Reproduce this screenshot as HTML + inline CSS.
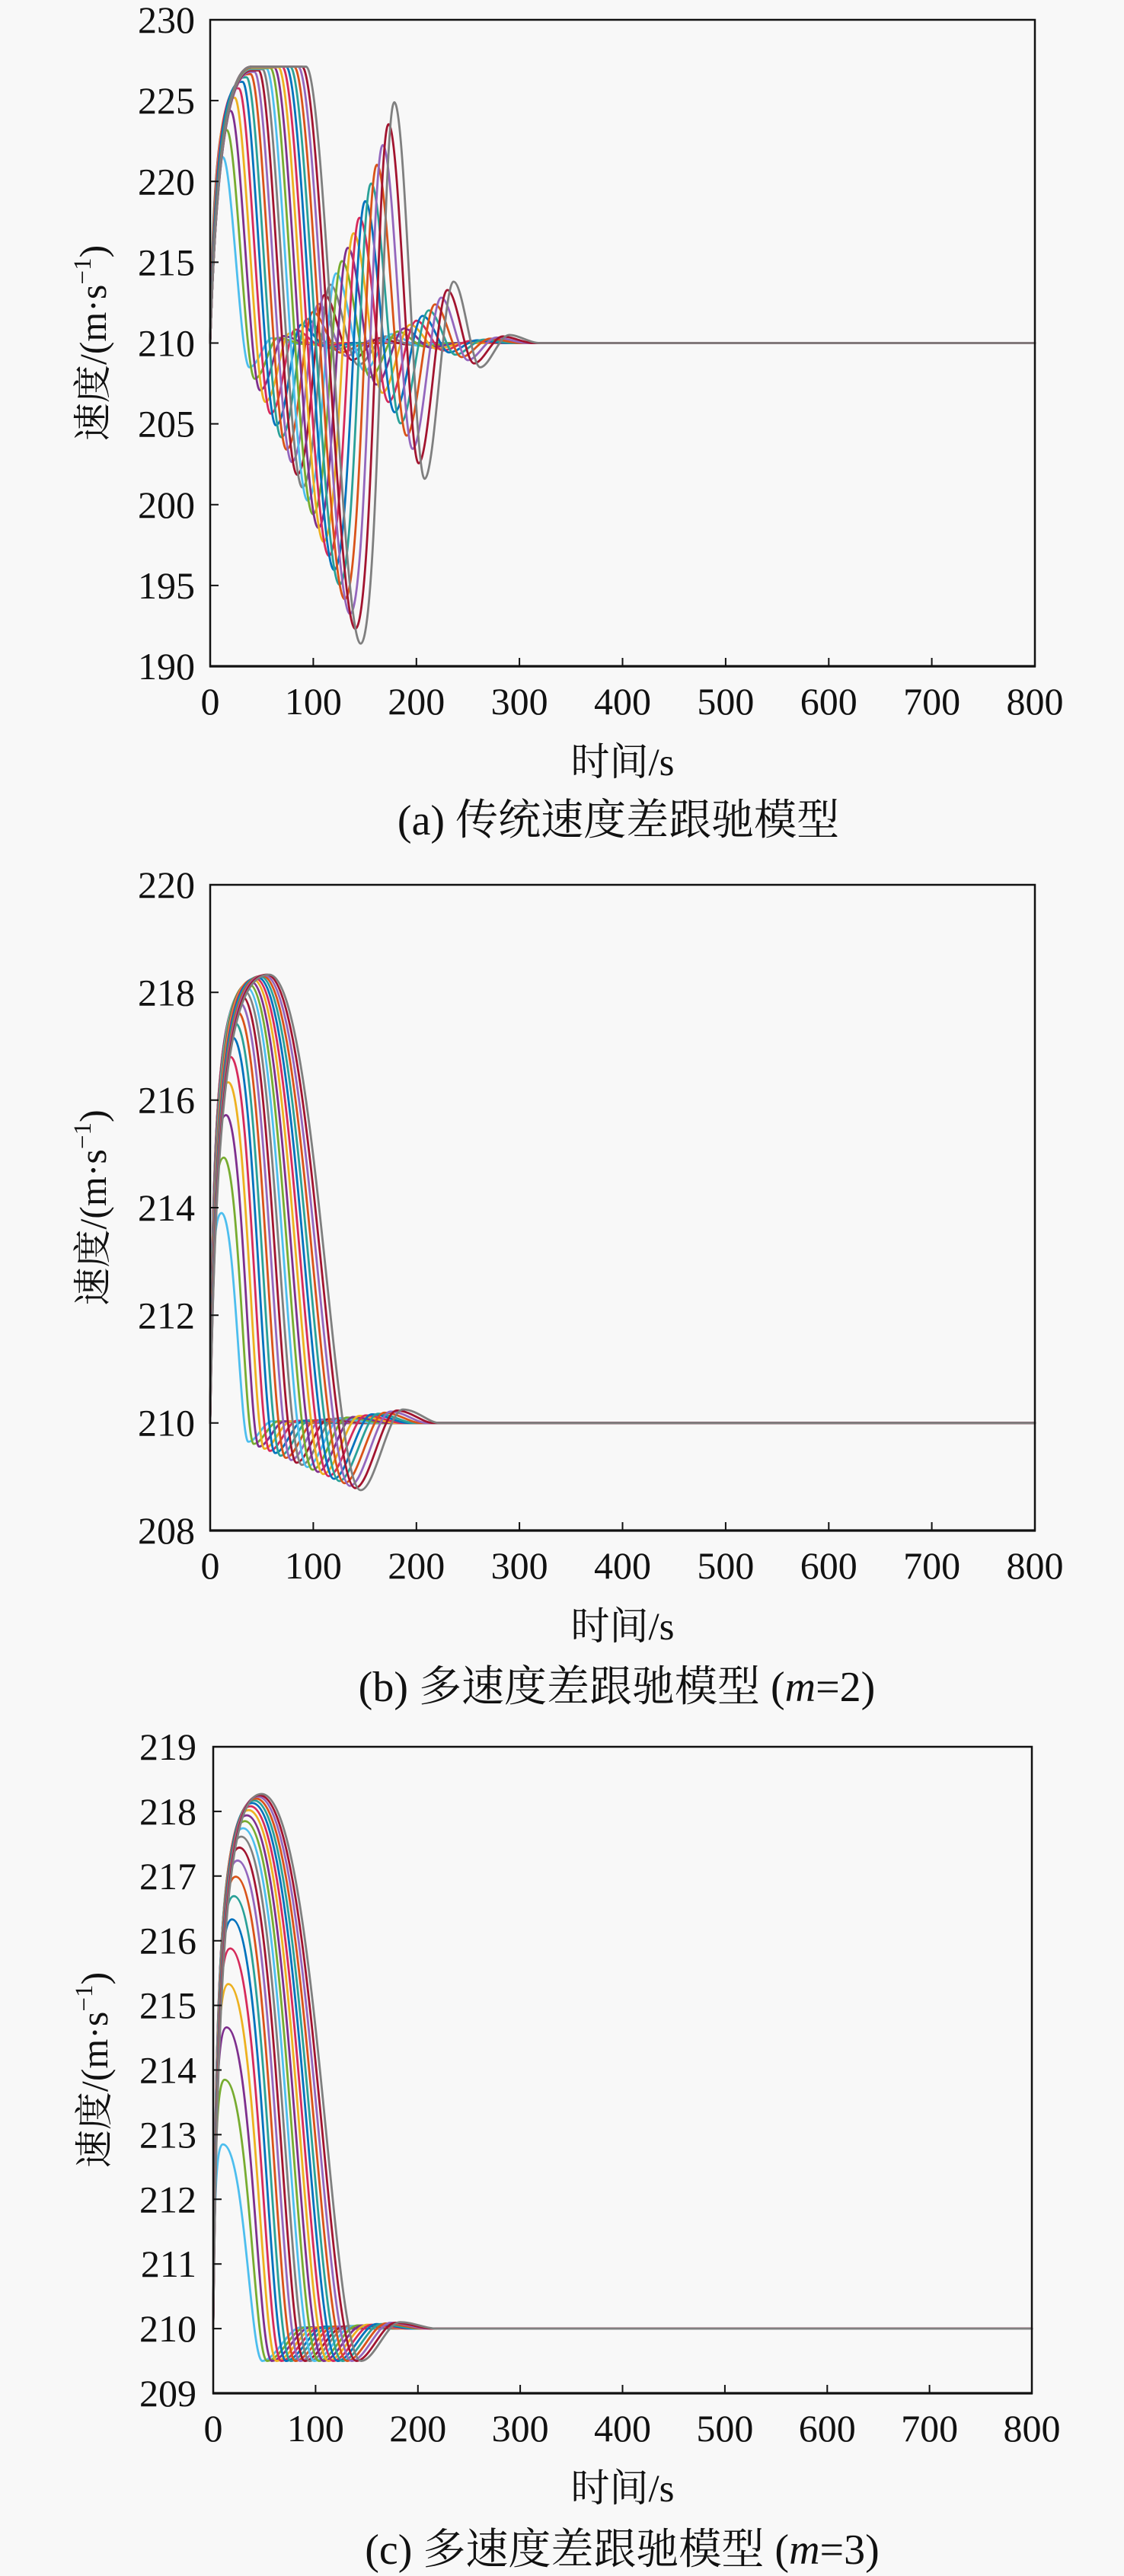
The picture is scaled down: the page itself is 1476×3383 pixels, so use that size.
<!DOCTYPE html>
<html><head><meta charset="utf-8">
<style>
html,body{margin:0;padding:0;background:#f8f8f8;}
svg{display:block;}
.p path{fill:none;stroke-width:2.8px;vector-effect:non-scaling-stroke;stroke-linejoin:round;stroke-linecap:round;}
.c0{stroke:#4dbeee}.c1{stroke:#77ac30}.c2{stroke:#7e2f8e}.c3{stroke:#edb120}.c4{stroke:#d62a5b}.c5{stroke:#0072bd}.c6{stroke:#2aa198}.c7{stroke:#d95319}.c8{stroke:#9467bd}.c9{stroke:#a2142f}.c10{stroke:#7f7f7f}
text{font-family:"Liberation Serif","Noto Serif CJK SC",serif;fill:#111;}
.tk{font-size:50px;}
.ax{font-size:51px;}
.cap{font-size:56px;}
.yl{font-size:50px;}
</style></head><body>
<svg width="1476" height="3383" viewBox="0 0 1476 3383" xmlns="http://www.w3.org/2000/svg">
<rect width="1476" height="3383" fill="#f8f8f8"/>

<!-- ================= Panel (a) ================= -->
<g class="p" transform="matrix(1.35375 0 0 -21.225 276 4907.75)">
<path class="c0" d="M0,210 C1.8,218.05 5.5,221.5 12.3,221.5 C20.9,221.5 29.4,208.5 38,208.5 S52.7,210.3 60,210.3 S76.7,209.95 85,209.95 S101.7,210 110,210 L800,210"/>
<path class="c1" d="M0,210 C2.4,219.23 7.1,223.18 15.8,223.18 L16.1,223.18 C25.1,223.18 34.1,207.79 43.1,207.79 S58.2,210.33 65.7,210.33 S82.5,209.95 90.9,209.95 S107.6,210 116,210 L800,210"/>
<path class="c2" d="M0,210 C2.9,220.05 8.7,224.36 19.3,224.36 L20,224.36 C29.4,224.36 38.9,207.08 48.3,207.08 S63.6,210.43 71.3,210.43 S88.2,209.93 96.7,209.93 S113.6,210 122,210 L800,210"/>
<path class="c3" d="M0,210 C3.4,220.63 10.3,225.18 22.8,225.18 L23.8,225.18 C33.7,225.18 43.5,206.36 53.4,206.36 S69.2,210.6 77,210.6 S94.1,209.89 102.6,209.89 S119.6,210 128,210 L800,210"/>
<path class="c4" d="M0,210 C3.9,221.03 11.8,225.76 26.3,225.76 L27.7,225.76 C38,225.76 48.3,205.63 58.6,205.63 S74.6,210.83 82.6,210.83 S99.8,209.82 108.4,209.82 S125.5,210 134,210 L800,210"/>
<path class="c5" d="M0,210 C4.5,221.31 13.4,226.16 29.8,226.16 L31.5,226.16 C42.2,226.16 53,204.91 63.7,204.91 S80.1,211.13 88.3,211.13 S105.6,209.72 114.3,209.72 S131.4,210 140,210 L800,210"/>
<path class="c6" d="M0,210 C5,221.51 15,226.44 33.3,226.44 L35.3,226.44 C46.5,226.44 57.6,204.17 68.8,204.17 S85.5,211.49 93.9,211.49 S111.4,209.59 120.2,209.59 S137.4,210 146,210 L800,210"/>
<path class="c7" d="M0,210 C5.5,221.65 16.6,226.64 36.8,226.64 L39.2,226.64 C50.8,226.64 62.4,203.41 74,203.41 S91.1,211.92 99.6,211.92 S117.2,209.41 126,209.41 S143.3,210 152,210 L800,210"/>
<path class="c8" d="M0,210 C6,221.75 18,226.78 40,226.78 L43,226.78 C55,226.78 67.1,202.64 79.1,202.64 S96.5,212.42 105.2,212.42 S123,209.2 131.9,209.2 S149.3,210.21 158,210.21 S170,210 180,210 L800,210"/>
<path class="c9" d="M0,210 C6,221.81 18,226.87 40,226.87 L46.9,226.87 C59.4,226.87 71.8,201.85 84.3,201.85 S102,212.98 110.9,212.98 S128.7,208.95 137.7,208.95 S155.2,210.3 164,210.3 S180.9,209.92 189.4,209.92 S207,210 215.7,210 L800,210"/>
<path class="c10" d="M0,210 C6,221.86 18,226.94 40,226.94 L50.7,226.94 C63.6,226.94 76.5,201.06 89.4,201.06 S107.5,213.61 116.5,213.61 S134.6,208.64 143.6,208.64 S161.2,210.41 170,210.41 S187,209.89 195.5,209.89 S213.1,210 221.9,210 L800,210"/>
<path class="c0" d="M0,210 C6,221.89 18,226.99 40,226.99 L54.5,226.99 C67.8,226.99 81.2,200.25 94.5,200.25 S113,214.31 122.2,214.31 S140.4,208.29 149.5,208.29 S167.2,210.55 176,210.55 S193.1,209.84 201.6,209.84 S219.3,210 228.1,210 L800,210"/>
<path class="c1" d="M0,210 C6,221.91 18,227.02 40,227.02 L58.4,227.02 C72.2,227.02 85.9,199.41 99.7,199.41 S118.4,215.07 127.8,215.07 S146.1,207.89 155.3,207.89 S173.1,210.71 182,210.71 S199.1,209.79 207.6,209.79 S225.4,210 234.3,210 L800,210"/>
<path class="c2" d="M0,210 C6,221.94 18,227.05 40,227.05 L62.2,227.05 C76.4,227.05 90.6,198.57 104.8,198.57 S123.9,215.89 133.5,215.89 S152,207.43 161.2,207.43 S179.1,210.9 188,210.9 S205.1,209.72 213.7,209.72 S231.6,210 240.5,210 L800,210"/>
<path class="c3" d="M0,210 C6,221.95 18,227.07 40,227.07 L66.1,227.07 C80.7,227.07 95.4,197.71 110,197.71 S129.4,216.79 139.1,216.79 S157.7,206.92 167,206.92 S185,211.13 194,211.13 S211.1,209.64 219.7,209.64 S237.7,210 246.7,210 L800,210"/>
<path class="c4" d="M0,210 C6,221.97 18,227.1 40,227.1 L69.9,227.1 C85,227.1 100,196.84 115.1,196.84 S134.9,217.75 144.8,217.75 S163.5,206.35 172.9,206.35 S191,211.38 200,211.38 S217.2,209.54 225.8,209.54 S243.9,210.13 252.9,210.13 S272.9,210 282.9,210 L800,210"/>
<path class="c5" d="M0,210 C6,221.97 18,227.1 40,227.1 L73.7,227.1 C89.2,227.1 104.7,195.96 120.2,195.96 S140.3,218.78 150.4,218.78 S169.3,205.72 178.8,205.72 S196.9,211.68 206,211.68 S223.2,209.42 231.8,209.42 S249.9,210.17 259,210.17 S279,210 289,210 L800,210"/>
<path class="c6" d="M0,210 C6,221.97 18,227.1 40,227.1 L77.6,227.1 C93.5,227.1 109.5,195.05 125.4,195.05 S145.9,219.87 156.1,219.87 S175.1,205.03 184.6,205.03 S202.9,212.02 212,212.02 S229.3,209.28 237.9,209.28 S256.1,210.21 265.2,210.21 S285.2,210 295.2,210 L800,210"/>
<path class="c7" d="M0,210 C6,221.97 18,227.1 40,227.1 L81.4,227.1 C97.8,227.1 114.1,194.15 130.5,194.15 S151.3,221.03 161.7,221.03 S180.9,204.27 190.5,204.27 S208.8,212.39 218,212.39 S235.3,209.13 243.9,209.13 S262.2,210.27 271.4,210.27 S291.4,210 301.4,210 L800,210"/>
<path class="c8" d="M0,210 C6,221.97 18,227.1 40,227.1 L85.3,227.1 C102.1,227.1 118.9,193.24 135.7,193.24 S156.8,222.25 167.4,222.25 S186.7,203.45 196.3,203.45 S214.8,212.81 224,212.81 S241.3,208.94 250,208.94 S268.4,210.34 277.6,210.34 S297.6,210 307.6,210 L800,210"/>
<path class="c9" d="M0,210 C6,221.97 18,227.1 40,227.1 L89.1,227.1 C106.3,227.1 123.6,192.32 140.8,192.32 S162.3,223.54 173,223.54 S192.5,202.56 202.2,202.56 S220.7,213.28 230,213.28 S247.3,208.74 256,208.74 S274.5,210.41 283.8,210.41 S303.8,210 313.8,210 L800,210"/>
<path class="c10" d="M0,210 C6,221.97 18,227.1 40,227.1 L93,227.1 C110.7,227.1 128.3,191.4 146,191.4 S167.7,224.9 178.6,224.9 S198.2,201.6 208,201.6 S226.7,213.8 236,213.8 S253.3,208.5 262,208.5 S280.7,210.5 290,210.5 S310,210 320,210 L800,210"/>
</g>
<rect x="276" y="26" width="1083" height="849" fill="none" stroke="#111" stroke-width="2.5"/>
<line x1="275" y1="875" x2="1360" y2="875" stroke="#111" stroke-width="3.2"/>
<path d="M276,132.1h11M276,238.3h11M276,344.4h11M276,450.5h11M276,556.6h11M276,662.8h11M276,768.9h11M411.4,875v-11M546.8,875v-11M682.1,875v-11M817.5,875v-11M952.9,875v-11M1088.3,875v-11M1223.6,875v-11" stroke="#111" stroke-width="2"/>
<g class="tk" text-anchor="end">
<text x="256" y="43">230</text><text x="256" y="149.1">225</text><text x="256" y="255.3">220</text><text x="256" y="361.4">215</text><text x="256" y="467.5">210</text><text x="256" y="573.6">205</text><text x="256" y="679.8">200</text><text x="256" y="785.9">195</text><text x="256" y="892">190</text>
</g>
<g class="tk" text-anchor="middle">
<text x="276" y="938">0</text><text x="411.4" y="938">100</text><text x="546.8" y="938">200</text><text x="682.1" y="938">300</text><text x="817.5" y="938">400</text><text x="952.9" y="938">500</text><text x="1088.3" y="938">600</text><text x="1223.6" y="938">700</text><text x="1359" y="938">800</text>
</g>
<text class="yl" text-anchor="middle" transform="translate(139,450.5) rotate(-90)">速度/(m·s<tspan dy="-20" font-size="33">−1</tspan><tspan dy="20">)</tspan></text>
<text class="ax" x="817.5" y="1018" text-anchor="middle">时间/s</text>
<text class="cap" x="812" y="1096" text-anchor="middle">(a) 传统速度差跟驰模型</text>

<!-- ================= Panel (b) ================= -->
<g class="p" transform="matrix(1.35375 0 0 -70.6667 276 16708.67)">
<path class="c0" d="M0,210 C1.1,212.93 3.9,213.9 11,213.9 C24,213.9 29.2,209.65 37,209.65 C44.7,209.65 52.3,210.03 60,210.03 S85,210 95,210 L800,210"/>
<path class="c1" d="M0,210 C1.3,213.7 4.6,214.93 13.2,214.93 C27.7,214.93 33.5,209.61 42.2,209.61 C50.2,209.61 58.1,210.03 66.1,210.03 S91.1,210 101.1,210 L800,210"/>
<path class="c2" d="M0,210 C1.5,214.29 5.4,215.72 15.4,215.72 C31.4,215.72 37.8,209.56 47.4,209.56 C55.6,209.56 63.9,210.03 72.1,210.03 S97.1,210 107.1,210 L800,210"/>
<path class="c3" d="M0,210 C1.8,214.75 6.2,216.33 17.6,216.33 C35.1,216.33 42.1,209.52 52.6,209.52 C61.1,209.52 69.7,210.03 78.2,210.03 S103.2,210 113.2,210 L800,210"/>
<path class="c4" d="M0,210 C2,215.1 6.9,216.8 19.8,216.8 C38.8,216.8 46.4,209.48 57.8,209.48 C66.6,209.48 75.4,210.04 84.2,210.04 S109.2,210 119.2,210 L800,210"/>
<path class="c5" d="M0,210 C2.2,215.37 7.7,217.16 22,217.16 C42.5,217.16 50.7,209.44 63,209.44 C72.1,209.44 81.2,210.04 90.3,210.04 S115.3,210 125.3,210 L800,210"/>
<path class="c6" d="M0,210 C2.4,215.57 8.5,217.43 24.2,217.43 C46.2,217.43 54.9,209.39 68.1,209.39 C77.5,209.39 86.9,210.05 96.3,210.05 S121.3,210 131.3,210 L800,210"/>
<path class="c7" d="M0,210 C2.6,215.73 9.2,217.64 26.4,217.64 C49.9,217.64 59.2,209.35 73.3,209.35 C83,209.35 92.6,210.05 102.3,210.05 S127.3,210 137.3,210 L800,210"/>
<path class="c8" d="M0,210 C2.9,215.86 10,217.81 28.6,217.81 C53.6,217.81 63.5,209.31 78.5,209.31 C88.5,209.31 98.4,210.06 108.4,210.06 S133.4,210 143.4,210 L800,210"/>
<path class="c9" d="M0,210 C3.1,215.95 10.8,217.93 30.8,217.93 C57.3,217.93 67.8,209.26 83.7,209.26 C93.9,209.26 104.2,210.07 114.4,210.07 S139.4,210 149.4,210 L800,210"/>
<path class="c10" d="M0,210 C3.3,216.02 11.6,218.03 33,218.03 C61,218.03 72.1,209.22 88.9,209.22 C99.4,209.22 110,210.08 120.5,210.08 S145.5,210 155.5,210 L800,210"/>
<path class="c0" d="M0,210 C3.5,216.08 12.3,218.1 35.2,218.1 C64.7,218.1 76.4,209.18 94.1,209.18 C104.9,209.18 115.8,210.09 126.6,210.09 S151.6,210 161.6,210 L800,210"/>
<path class="c1" d="M0,210 C3.7,216.12 13.1,218.16 37.4,218.16 C68.4,218.16 80.7,209.13 99.3,209.13 C110.4,209.13 121.5,210.1 132.6,210.1 S157.6,210 167.6,210 L800,210"/>
<path class="c2" d="M0,210 C4,216.15 13.9,218.2 39.6,218.2 C72.1,218.2 85,209.09 104.5,209.09 C115.9,209.09 127.3,210.11 138.7,210.11 S163.7,210 173.7,210 L800,210"/>
<path class="c3" d="M0,210 C4.2,216.18 14.6,218.24 41.8,218.24 C75.8,218.24 89.3,209.05 109.7,209.05 C121.4,209.05 133,210.13 144.7,210.13 S169.7,210 179.7,210 L800,210"/>
<path class="c4" d="M0,210 C4.4,216.2 15.4,218.26 44,218.26 C79.5,218.26 93.6,209.01 114.9,209.01 C126.9,209.01 138.8,210.14 150.8,210.14 S175.8,210 185.8,210 L800,210"/>
<path class="c5" d="M0,210 C4.6,216.21 16.2,218.28 46.2,218.28 C83.1,218.28 97.9,208.96 120,208.96 C132.3,208.96 144.5,210.16 156.8,210.16 S181.8,210 191.8,210 L800,210"/>
<path class="c6" d="M0,210 C4.8,216.23 16.9,218.3 48.4,218.3 C86.8,218.3 102.2,208.92 125.2,208.92 C137.7,208.92 150.3,210.17 162.8,210.17 S187.8,210 197.8,210 L800,210"/>
<path class="c7" d="M0,210 C5.1,216.23 17.7,218.31 50.6,218.31 C90.5,218.31 106.5,208.88 130.4,208.88 C143.2,208.88 156.1,210.19 168.9,210.19 S193.9,210 203.9,210 L800,210"/>
<path class="c8" d="M0,210 C5.3,216.24 18.5,218.32 52.8,218.32 C94.2,218.32 110.8,208.83 135.6,208.83 C148.7,208.83 161.8,210.21 174.9,210.21 S199.9,210 209.9,210 L800,210"/>
<path class="c9" d="M0,210 C5.5,216.25 19.3,218.33 55,218.33 C97.9,218.33 115.1,208.79 140.8,208.79 C154.2,208.79 167.6,210.23 181,210.23 S206,210 216,210 L800,210"/>
<path class="c10" d="M0,210 C5.7,216.25 20,218.33 57.2,218.33 C101.6,218.33 119.4,208.75 146,208.75 C159.7,208.75 173.3,210.25 187,210.25 S212,210 222,210 L800,210"/>
</g>
<rect x="276" y="1162" width="1083" height="848" fill="none" stroke="#111" stroke-width="2.5"/>
<line x1="275" y1="2010" x2="1360" y2="2010" stroke="#111" stroke-width="3.2"/>
<path d="M276,1303.3h11M276,1444.7h11M276,1586h11M276,1727.3h11M276,1868.7h11M411.4,2010v-11M546.8,2010v-11M682.1,2010v-11M817.5,2010v-11M952.9,2010v-11M1088.3,2010v-11M1223.6,2010v-11" stroke="#111" stroke-width="2"/>
<g class="tk" text-anchor="end">
<text x="256" y="1179">220</text><text x="256" y="1320.3">218</text><text x="256" y="1461.7">216</text><text x="256" y="1603">214</text><text x="256" y="1744.3">212</text><text x="256" y="1885.7">210</text><text x="256" y="2027">208</text>
</g>
<g class="tk" text-anchor="middle">
<text x="276" y="2073">0</text><text x="411.4" y="2073">100</text><text x="546.8" y="2073">200</text><text x="682.1" y="2073">300</text><text x="817.5" y="2073">400</text><text x="952.9" y="2073">500</text><text x="1088.3" y="2073">600</text><text x="1223.6" y="2073">700</text><text x="1359" y="2073">800</text>
</g>
<text class="yl" text-anchor="middle" transform="translate(139,1586) rotate(-90)">速度/(m·s<tspan dy="-20" font-size="33">−1</tspan><tspan dy="20">)</tspan></text>
<text class="ax" x="817.5" y="2153" text-anchor="middle">时间/s</text>
<text class="cap" x="810" y="2234" text-anchor="middle">(b) 多速度差跟驰模型 (<tspan font-style="italic">m</tspan>=2)</text>

<!-- ================= Panel (c) ================= -->
<g class="p" transform="matrix(1.34375 0 0 -84.9 280 20887.1)">
<path class="c0" d="M0,210 C0.9,212.14 3.3,212.85 9.4,212.85 C30.6,212.85 36.4,209.5 48,209.5 C60.7,209.5 73.3,210.02 86,210.02 S111,210 121,210 L800,210"/>
<path class="c1" d="M0,210 C1.1,212.89 3.9,213.85 11.2,213.85 C34,213.85 40.2,209.5 52.6,209.5 C65.3,209.5 77.9,210.02 90.6,210.02 S115.6,210 125.6,210 L800,210"/>
<path class="c2" d="M0,210 C1.3,213.5 4.6,214.66 13,214.66 C37.3,214.66 43.9,209.5 57.2,209.5 C69.9,209.5 82.5,210.02 95.2,210.02 S120.2,210 130.2,210 L800,210"/>
<path class="c3" d="M0,210 C1.5,214 5.2,215.33 14.8,215.33 C40.7,215.33 47.7,209.5 61.8,209.5 C74.5,209.5 87.1,210.02 99.8,210.02 S124.8,210 134.8,210 L800,210"/>
<path class="c4" d="M0,210 C1.7,214.41 5.8,215.88 16.6,215.88 C44,215.88 51.5,209.5 66.4,209.5 C79.1,209.5 91.7,210.02 104.4,210.02 S129.4,210 139.4,210 L800,210"/>
<path class="c5" d="M0,210 C1.8,214.75 6.4,216.33 18.4,216.33 C47.3,216.33 55.2,209.5 71,209.5 C83.7,209.5 96.3,210.03 109,210.03 S134,210 144,210 L800,210"/>
<path class="c6" d="M0,210 C2,215.02 7.1,216.69 20.2,216.69 C50.7,216.69 59,209.5 75.6,209.5 C88.3,209.5 100.9,210.03 113.6,210.03 S138.6,210 148.6,210 L800,210"/>
<path class="c7" d="M0,210 C2.2,215.24 7.7,216.99 22,216.99 C54,216.99 62.7,209.5 80.2,209.5 C92.9,209.5 105.5,210.03 118.2,210.03 S143.2,210 153.2,210 L800,210"/>
<path class="c8" d="M0,210 C2.4,215.43 8.3,217.24 23.8,217.24 C57.4,217.24 66.5,209.5 84.8,209.5 C97.5,209.5 110.1,210.03 122.8,210.03 S147.8,210 157.8,210 L800,210"/>
<path class="c9" d="M0,210 C2.6,215.58 9,217.44 25.6,217.44 C60.7,217.44 70.3,209.5 89.4,209.5 C102.1,209.5 114.7,210.03 127.4,210.03 S152.4,210 162.4,210 L800,210"/>
<path class="c10" d="M0,210 C2.7,215.71 9.6,217.61 27.4,217.61 C64,217.61 74,209.5 94,209.5 C106.7,209.5 119.3,210.04 132,210.04 S157,210 167,210 L800,210"/>
<path class="c0" d="M0,210 C2.9,215.81 10.2,217.74 29.2,217.74 C67.4,217.74 77.8,209.5 98.6,209.5 C111.3,209.5 123.9,210.04 136.6,210.04 S161.6,210 171.6,210 L800,210"/>
<path class="c1" d="M0,210 C3.1,215.89 10.9,217.85 31,217.85 C70.7,217.85 81.5,209.5 103.2,209.5 C115.9,209.5 128.5,210.05 141.2,210.05 S166.2,210 176.2,210 L800,210"/>
<path class="c2" d="M0,210 C3.3,215.96 11.5,217.94 32.8,217.94 C74.1,217.94 85.3,209.5 107.8,209.5 C120.5,209.5 133.1,210.05 145.8,210.05 S170.8,210 180.8,210 L800,210"/>
<path class="c3" d="M0,210 C3.5,216.02 12.1,218.02 34.6,218.02 C77.4,218.02 89.1,209.5 112.4,209.5 C125.1,209.5 137.7,210.06 150.4,210.06 S175.4,210 185.4,210 L800,210"/>
<path class="c4" d="M0,210 C3.6,216.06 12.7,218.08 36.4,218.08 C80.7,218.08 92.8,209.5 117,209.5 C129.7,209.5 142.3,210.06 155,210.06 S180,210 190,210 L800,210"/>
<path class="c5" d="M0,210 C3.8,216.1 13.4,218.13 38.2,218.13 C84.1,218.13 96.6,209.5 121.6,209.5 C134.3,209.5 146.9,210.07 159.6,210.07 S184.6,210 194.6,210 L800,210"/>
<path class="c6" d="M0,210 C4,216.13 14,218.17 40,218.17 C87.4,218.17 100.3,209.5 126.2,209.5 C138.9,209.5 151.5,210.07 164.2,210.07 S189.2,210 199.2,210 L800,210"/>
<path class="c7" d="M0,210 C4.2,216.15 14.6,218.2 41.8,218.2 C90.8,218.2 104.1,209.5 130.8,209.5 C143.5,209.5 156.1,210.08 168.8,210.08 S193.8,210 203.8,210 L800,210"/>
<path class="c8" d="M0,210 C4.4,216.17 15.3,218.23 43.6,218.23 C94.1,218.23 107.9,209.5 135.4,209.5 C148.1,209.5 160.7,210.09 173.4,210.09 S198.4,210 208.4,210 L800,210"/>
<path class="c9" d="M0,210 C4.5,216.19 15.9,218.25 45.4,218.25 C97.4,218.25 111.6,209.5 140,209.5 C152.7,209.5 165.3,210.09 178,210.09 S203,210 213,210 L800,210"/>
<path class="c10" d="M0,210 C4.7,216.2 16.5,218.27 47.2,218.27 C100.8,218.27 115.4,209.5 144.6,209.5 C157.3,209.5 169.9,210.1 182.6,210.1 S207.6,210 217.6,210 L800,210"/>
</g>
<rect x="280" y="2294" width="1075" height="849" fill="none" stroke="#111" stroke-width="2.5"/>
<line x1="279" y1="3143" x2="1356" y2="3143" stroke="#111" stroke-width="3.2"/>
<path d="M280,2378.9h11M280,2463.8h11M280,2548.7h11M280,2633.6h11M280,2718.5h11M280,2803.4h11M280,2888.3h11M280,2973.2h11M280,3058.1h11M414.4,3143v-11M548.8,3143v-11M683.1,3143v-11M817.5,3143v-11M951.9,3143v-11M1086.3,3143v-11M1220.6,3143v-11" stroke="#111" stroke-width="2"/>
<g class="tk" text-anchor="end">
<text x="258" y="2311">219</text><text x="258" y="2395.9">218</text><text x="258" y="2480.8">217</text><text x="258" y="2565.7">216</text><text x="258" y="2650.6">215</text><text x="258" y="2735.5">214</text><text x="258" y="2820.4">213</text><text x="258" y="2905.3">212</text><text x="258" y="2990.2">211</text><text x="258" y="3075.1">210</text><text x="258" y="3160">209</text>
</g>
<g class="tk" text-anchor="middle">
<text x="280" y="3206">0</text><text x="414.4" y="3206">100</text><text x="548.8" y="3206">200</text><text x="683.1" y="3206">300</text><text x="817.5" y="3206">400</text><text x="951.9" y="3206">500</text><text x="1086.3" y="3206">600</text><text x="1220.6" y="3206">700</text><text x="1355" y="3206">800</text>
</g>
<text class="yl" text-anchor="middle" transform="translate(141,2718.5) rotate(-90)">速度/(m·s<tspan dy="-20" font-size="33">−1</tspan><tspan dy="20">)</tspan></text>
<text class="ax" x="817.5" y="3285" text-anchor="middle">时间/s</text>
<text class="cap" x="817" y="3367" text-anchor="middle">(c) 多速度差跟驰模型 (<tspan font-style="italic">m</tspan>=3)</text>
</svg>
</body></html>
